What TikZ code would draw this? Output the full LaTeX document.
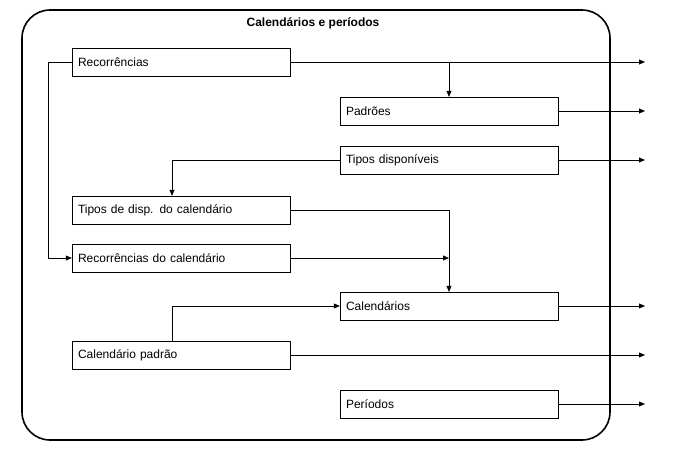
\documentclass[tikz,border=0pt]{standalone}
\usepackage{fontspec}
\setmainfont{Liberation Sans}
\usetikzlibrary{positioning,arrows.meta}
\tikzstyle{tableBox} = [draw, minimum width=218pt, minimum height=28pt, text width=206pt, align=left, inner sep=0pt, font=\fontsize{12pt}{14pt}\selectfont]
\tikzstyle{link} = [-{Triangle[length=6pt,width=5pt]}]
\begin{document}
\begin{tikzpicture}[y=-1pt, x=1pt]
  \useasboundingbox (0,0) rectangle (680,453);
  \draw [line width=1.6pt, rounded corners=28pt] (22,10) rectangle (610,440);
  \node [font=\bfseries\fontsize{12pt}{14pt}\selectfont] (title) at (313,23) {Calendários e períodos};
  \node [tableBox] (recorr) at (181,62) {Recorrências};
  \node [tableBox] (padroes) at (449,111) {Padrões};
  \node [tableBox] (tipos) at (449,160) {Tipos disponíveis};
  \node [tableBox] (tiposCal) at (181,210) {Tipos de disp. do calendário};
  \node [tableBox] (recorrCal) at (181,258) {Recorrências do calendário};
  \node [tableBox] (cals) at (449,306) {Calendários};
  \node [tableBox] (calPadrao) at (181,355) {Calendário padrão};
  \node [tableBox] (periodos) at (449,404) {Períodos};
  % outgoing arrows
  \foreach \n in {recorr, padroes, tipos, cals, calPadrao, periodos}
    \draw [link] (\n.east) -- (\n.east -| 645,0);
  % internal links
  \draw [link] (recorr.east -| padroes.north) -- (padroes.north);
  \draw [link] (tipos.west) -| ([xshift=-9pt]tiposCal.north);
  \draw [link] (recorr.west) -- ++(-24,0) |- (recorrCal.west);
  \draw [link] (tiposCal.east) -| (cals.north);
  \draw [link] (recorrCal.east) -- (recorrCal.east -| cals.north);
  \draw [link] ([xshift=-9pt]calPadrao.north) |- (cals.west);
\end{tikzpicture}
\end{document}
